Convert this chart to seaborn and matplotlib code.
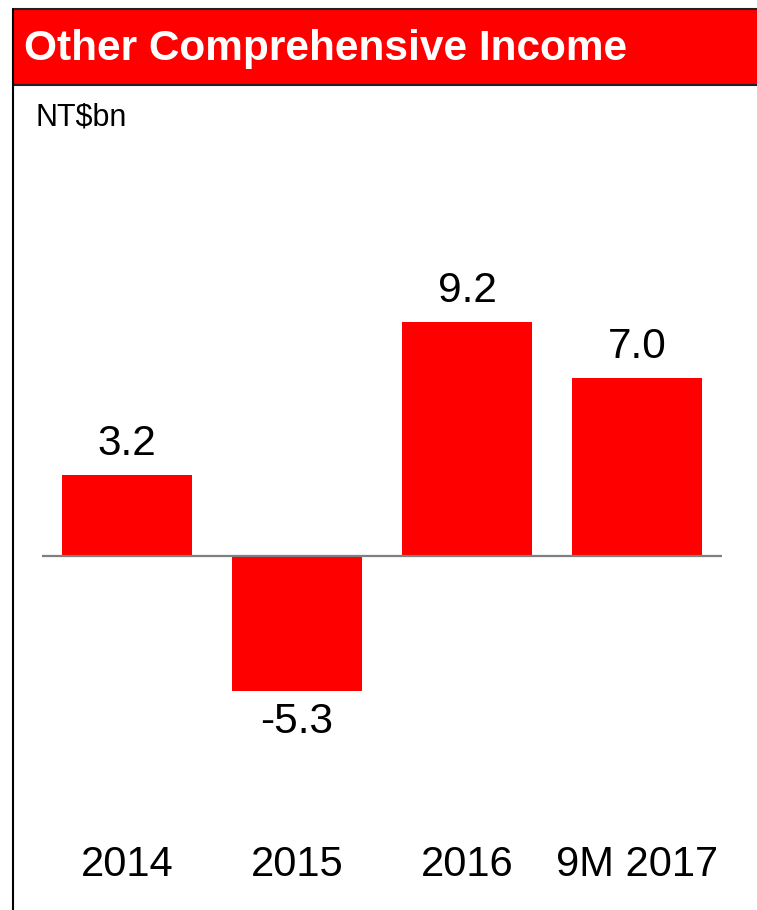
import matplotlib
matplotlib.use("Agg")
import matplotlib.pyplot as plt
import seaborn as sns
import pandas as pd
from matplotlib.patches import Rectangle
from matplotlib.lines import Line2D

categories = ["2014", "2015", "2016", "9M 2017"]
values = [3.2, -5.3, 9.2, 7.0]
value_labels = ["3.2", "-5.3", "9.2", "7.0"]
title = "Other Comprehensive Income"
unit = "NT$bn"

sns.set_style("white")
plt.rcParams["font.family"] = ["Liberation Sans", "DejaVu Sans"]

W, H = 757, 910
fig = plt.figure(figsize=(W / 100, H / 100), dpi=100)

# axes geometry in pixels
left_px, right_px = 42, 722
top_px, bottom_px = 130, 865
zero_px = 556
ppu = 25.4
ax = fig.add_axes([left_px / W, 1 - bottom_px / H,
                   (right_px - left_px) / W, (bottom_px - top_px) / H])

df = pd.DataFrame({"cat": categories, "val": values})
sns.barplot(data=df, x="cat", y="val", color="#FF0000", saturation=1,
            width=0.765, linewidth=0, ax=ax)

ax.set_xlim(-0.5, 3.5)
ax.set_ylim(-(bottom_px - zero_px) / ppu, (zero_px - top_px) / ppu)
ax.axhline(0, color="#7f7f7f", lw=1.6, zorder=3)

for c in ax.containers:
    ax.bar_label(c, labels=value_labels, padding=8, fontsize=30.5, color="black")

ax.set_xlabel("")
ax.set_ylabel("")
ax.set_yticks([])
ax.tick_params(axis="x", length=0, pad=0, labelsize=30, labelcolor="black")
for t in ax.get_xticklabels():
    t.set_va("center")
for s in ax.spines.values():
    s.set_visible(False)

# title bar
fig.patches.append(Rectangle((13 / W, 1 - 85 / H), (W - 13) / W, 76 / H,
                             transform=fig.transFigure, facecolor="#FF0000",
                             edgecolor="none", zorder=0))
fig.add_artist(Line2D([13 / W, 1], [1 - 8.5 / H, 1 - 8.5 / H], color="#222222", lw=1.5))
fig.add_artist(Line2D([13 / W, 1], [1 - 85 / H, 1 - 85 / H], color="#222222", lw=1.5))
fig.add_artist(Line2D([13 / W, 13 / W], [0, 1 - 8.5 / H], color="black", lw=1.5))

fig.text(24 / W, 1 - 49 / H, title, color="white", fontsize=30.5,
         fontweight="bold", ha="left", va="center")
fig.text(36 / W, 1 - 118 / H, unit, color="black", fontsize=22,
         ha="left", va="center")

fig.savefig("out.png", dpi=100)
